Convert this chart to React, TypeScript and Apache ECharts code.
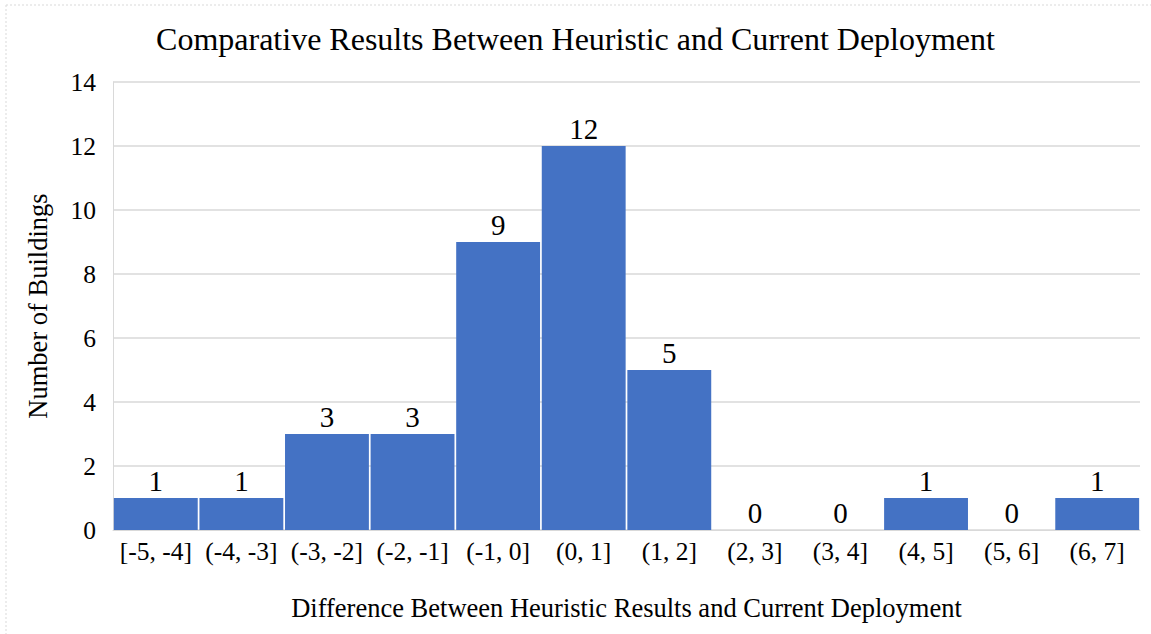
import React, { useEffect, useRef } from "react";
import * as echarts from "echarts";

const categories = ["[-5, -4]", "(-4, -3]", "(-3, -2]", "(-2, -1]", "(-1, 0]", "(0, 1]", "(1, 2]", "(2, 3]", "(3, 4]", "(4, 5]", "(5, 6]", "(6, 7]"];
const buildings = [1, 1, 3, 3, 9, 12, 5, 0, 0, 1, 0, 1];

const FONT = "'Liberation Serif', 'Times New Roman', serif";

export default function App() {
  const ref = useRef<HTMLDivElement>(null);
  useEffect(() => {
    if (!ref.current) return;
    const chart = echarts.init(ref.current, null, { renderer: "svg" });
    chart.setOption({
      animation: false,
      backgroundColor: "#ffffff",
      title: {
        text: "Comparative Results Between Heuristic and Current Deployment",
        left: "center",
        top: 18,
        textStyle: { fontFamily: FONT, fontSize: 32, fontWeight: "normal", color: "#000" },
      },
      graphic: [
        { type: "line", shape: { x1: 6, y1: 5, x2: 1151, y2: 5 }, style: { stroke: "#d9d9d9", lineWidth: 1, lineDash: [2, 2] } },
        { type: "line", shape: { x1: 6, y1: 5, x2: 6, y2: 634 }, style: { stroke: "#d9d9d9", lineWidth: 1, lineDash: [2, 2] } },
      ],
      grid: { left: 113, right: 11, top: 82, bottom: 104, containLabel: false },
      xAxis: {
        type: "category",
        data: categories,
        name: "Difference Between Heuristic Results and Current Deployment",
        nameLocation: "middle",
        nameGap: 64,
        nameTextStyle: { fontFamily: FONT, fontSize: 26.5, color: "#000" },
        axisLine: { show: true, lineStyle: { color: "#d9d9d9" } },
        axisTick: { show: false },
        axisLabel: { fontFamily: FONT, fontSize: 25.5, color: "#000", margin: 8, interval: 0 },
      },
      yAxis: {
        type: "value",
        min: 0,
        max: 14,
        interval: 2,
        name: "Number of Buildings",
        nameLocation: "middle",
        nameGap: 62,
        nameTextStyle: { fontFamily: FONT, fontSize: 26.5, color: "#000" },
        axisLine: { show: true, lineStyle: { color: "#d9d9d9" } },
        axisTick: { show: false },
        axisLabel: { fontFamily: FONT, fontSize: 25.5, color: "#000", margin: 17 },
        splitLine: { lineStyle: { color: "#d9d9d9", width: 1.5 } },
      },
      series: [
        {
          type: "bar",
          data: buildings,
          barCategoryGap: "2%",
          itemStyle: { color: "#4472C4" },
          label: {
            show: true,
            position: "top",
            distance: 3,
            fontFamily: FONT,
            fontSize: 29,
            color: "#000",
          },
        },
      ],
    });
    return () => chart.dispose();
  }, []);
  return <div ref={ref} style={{ position: "absolute", left: 0, top: 0, width: 1151, height: 634 }} />;
}
